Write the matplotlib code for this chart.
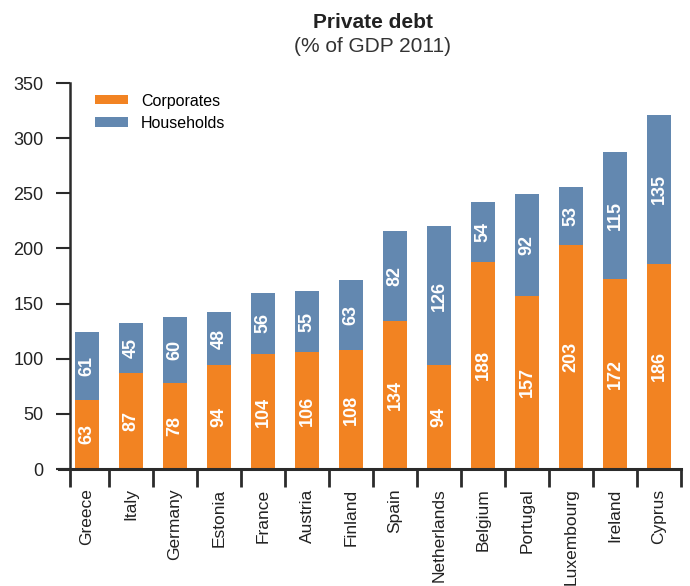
import matplotlib
matplotlib.use("Agg")
import matplotlib.pyplot as plt
from matplotlib import font_manager
import numpy as np

countries = ["Greece", "Italy", "Germany", "Estonia", "France", "Austria", "Finland",
             "Spain", "Netherlands", "Belgium", "Portugal", "Luxembourg", "Ireland", "Cyprus"]
corporates = [63, 87, 78, 94, 104, 106, 108, 134, 94, 188, 157, 203, 172, 186]
households = [61, 45, 60, 48, 56, 55, 63, 82, 126, 54, 92, 53, 115, 135]
yticks = [0, 50, 100, 150, 200, 250, 300, 350]

names = {f.name for f in font_manager.fontManager.ttflist}
narrow = "Liberation Sans Narrow" if "Liberation Sans Narrow" in names else "Liberation Sans"
plt.rcParams['font.family'] = ['Liberation Sans', 'DejaVu Sans']

orange = "#F28322"
blue = "#6388B0"
axc = "#2b2b2b"

fig = plt.figure(figsize=(6.9, 5.86), dpi=100)
ax = fig.add_axes([70/690, 1-469/586, (681-70)/690, (469-83)/586])

x = np.arange(len(countries))
w = 0.55
ax.bar(x, corporates, w, color=orange, label="Corporates", zorder=2)
ax.bar(x, households, w, bottom=corporates, color=blue, label="Households", zorder=2)

for i in range(len(countries)):
    c = corporates[i]; h = households[i]
    ax.text(x[i], c/2, str(c), rotation=90, ha="center", va="center", color="white",
            fontsize=13, fontweight="bold", family=narrow, zorder=3)
    ax.text(x[i], c + h/2, str(h), rotation=90, ha="center", va="center", color="white",
            fontsize=13, fontweight="bold", family=narrow, zorder=3)

left = (70-87)/44
ax.set_xlim(left, 13.5)
ax.set_ylim(0, 350)
ax.set_yticks(yticks)
ax.set_yticklabels([str(v) for v in yticks], fontsize=13, color="#222222")
ax.set_xticks(x)
ax.set_xticklabels(countries, rotation=90, fontsize=12.5, family=narrow, color="#222222")
ax.set_xticks([left] + list(np.arange(0.5, 13.6, 1.0)), minor=True)
ax.tick_params(axis="x", which="major", length=0, pad=14)
ax.tick_params(axis="x", which="minor", length=13, width=2, color=axc, direction="out")
ax.tick_params(axis="y", which="major", length=10, width=1.5, color=axc, direction="out", pad=9)

for s in ["top", "right"]:
    ax.spines[s].set_visible(False)
ax.spines["left"].set_color(axc)
ax.spines["left"].set_linewidth(1.8)
ax.spines["bottom"].set_color(axc)
ax.spines["bottom"].set_linewidth(2.2)
ax.spines["bottom"].set_bounds(-0.645, 13.5)

fig.text(373/690, 1-22/586, "Private debt", ha="center", va="center", fontsize=15,
         fontweight="bold", color="#222222")
fig.text(373/690, 1-47/586, "(% of GDP 2011)", ha="center", va="center", fontsize=15,
         color="#333333")

leg = ax.legend(loc="upper left", bbox_to_anchor=(0.017, 1.01), frameon=False,
                prop={"family": narrow, "size": 11.5}, handlelength=2.1, handleheight=0.5,
                handletextpad=0.8, labelspacing=0.45)

fig.savefig("out.png", dpi=100)
